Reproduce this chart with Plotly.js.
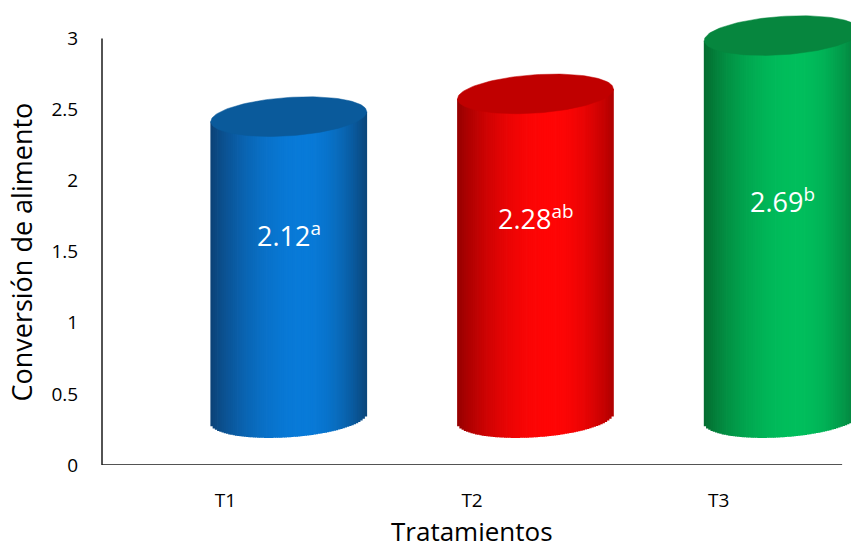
<!DOCTYPE html>
<html>
<head>
<meta charset="utf-8">
<script src="https://cdn.plot.ly/plotly-3.0.1.min.js"></script>
<style>html,body{margin:0;padding:0;background:#fff;}#chart{width:851px;height:550px;}</style>
</head>
<body>
<div id="chart"></div>
<script>
// ---- data ----
const categories = ['T1', 'T2', 'T3'];
const values = [2.12, 2.28, 2.69];
const letters = ['a', 'ab', 'b'];
const yTickVals = [0, 0.5, 1, 1.5, 2, 2.5, 3];
const yTickText = ['0', '0.5', '1', '1.5', '2', '2.5', '3'];
const xTitle = 'Tratamientos';
const yTitle = 'Conversión de alimento';

// ---- style ----
const palettes = [
  {left: [12, 66, 118], mid: [8, 122, 216], right: [10, 70, 122], top: [10, 90, 155]},
  {left: [150, 0, 0], mid: [255, 5, 5], right: [175, 0, 0], top: [192, 0, 0]},
  {left: [4, 108, 48], mid: [0, 190, 92], right: [5, 118, 56], top: [6, 134, 62]}
];
const baseOffset = 0.33;   // visual perspective lift of the cylinder bottoms
const xOffset = 0.257;     // perspective shift of the cylinders to the right
const halfW = 0.316;       // cylinder half width (x units)
const ellB = 0.135;        // ellipse vertical semi-axis (y units)
const ellS = 0.035;        // ellipse tilt (y units)
const labelLift = [1.62, 1.74, 1.86];
const N = 70;
const FONT = 'Open Sans, sans-serif';

function mix(c1, c2, t) {
  return c1.map((v, k) => Math.round(v + (c2[k] - v) * t));
}
function shade(p, u) {
  const peak = 0.6;
  let c;
  if (u < peak) { const t = u / peak; c = mix(p.left, p.mid, 1 - (1 - t) * (1 - t)); }
  else { const t = (u - peak) / (1 - peak); c = mix(p.mid, p.right, t * t); }
  return 'rgb(' + c.join(',') + ')';
}

const traces = [];
const annotations = [];
values.forEach((v, i) => {
  const p = palettes[i];
  const xc = i + xOffset;
  const yBot = baseOffset;
  const yTop = baseOffset + v;
  const xs = [], ys = [], bases = [], widths = [], cols = [];
  const sw = 2 * halfW / N;
  for (let k = 0; k < N; k++) {
    const u = (k + 0.5) / N;
    const uu = 2 * u - 1;
    const curve = ellB * Math.sqrt(Math.max(0, 1 - uu * uu));
    xs.push(xc - halfW + (k + 0.5) * sw);
    bases.push(yBot + ellS * uu - curve);
    ys.push((yTop - yBot) + curve);
    widths.push(sw * 1.35);
    cols.push(shade(p, u));
  }
  traces.push({
    type: 'bar', x: xs, y: ys, base: bases, width: widths,
    marker: {color: cols, line: {width: 0}},
    hoverinfo: 'skip', showlegend: false
  });
  const ex = [], ey = [];
  for (let k = 0; k <= 120; k++) {
    const t = 2 * Math.PI * k / 120;
    ex.push(xc + halfW * Math.cos(t));
    ey.push(yTop + ellB * Math.sin(t) + ellS * Math.cos(t));
  }
  const topCol = 'rgb(' + p.top.join(',') + ')';
  traces.push({
    type: 'scatter', mode: 'lines', x: ex, y: ey, fill: 'toself',
    fillcolor: topCol, line: {color: topCol, width: 0.5},
    hoverinfo: 'skip', showlegend: false
  });
  annotations.push({
    x: xc, y: labelLift[i], xref: 'x', yref: 'y', showarrow: false,
    text: v.toFixed(2) + '<sup>' + letters[i] + '</sup>',
    font: {family: FONT, size: 27, color: '#ffffff'},
    xanchor: 'center', yanchor: 'middle'
  });
});

annotations.push({
  x: -0.107, xref: 'paper', y: 1.5, yref: 'y', textangle: -90, showarrow: false,
  text: yTitle, font: {family: FONT, size: 27, color: '#000'},
  xanchor: 'center', yanchor: 'middle'
});
annotations.push({
  x: 1, xref: 'x', y: -0.146, yref: 'paper', showarrow: false,
  text: xTitle, font: {family: FONT, size: 26, color: '#000'},
  xanchor: 'center', yanchor: 'middle'
});

const layout = {
  width: 851, height: 550,
  margin: {l: 102, r: 0, t: 10, b: 85},
  paper_bgcolor: '#fff', plot_bgcolor: '#fff',
  barmode: 'overlay',
  hovermode: false,
  showlegend: false,
  font: {family: FONT, color: '#000'},
  xaxis: {
    range: [-0.5, 2.536], showgrid: false, zeroline: false, showline: false,
    tickmode: 'array', tickvals: [0, 1, 2], ticktext: categories,
    ticks: 'outside', ticklen: 18, tickcolor: 'rgba(0,0,0,0)',
    tickfont: {size: 19, color: '#000'}
  },
  yaxis: {
    range: [0, 3.2], showgrid: false, zeroline: false, showline: false,
    tickmode: 'array', tickvals: yTickVals, ticktext: yTickText,
    ticks: 'outside', ticklen: 19, tickcolor: 'rgba(0,0,0,0)',
    tickfont: {size: 19, color: '#000'}
  },
  shapes: [
    {type: 'line', xref: 'paper', yref: 'y', x0: 0, x1: 0, y0: 0, y1: 3, line: {color: '#1a1a1a', width: 1.5}},
    {type: 'line', xref: 'x', yref: 'y', x0: -0.5, x1: 2.5, y0: 0, y1: 0, line: {color: '#1a1a1a', width: 1.5}}
  ],
  annotations: annotations
};

Plotly.newPlot('chart', traces, layout, {staticPlot: true, displayModeBar: false});
</script>
</body>
</html>
